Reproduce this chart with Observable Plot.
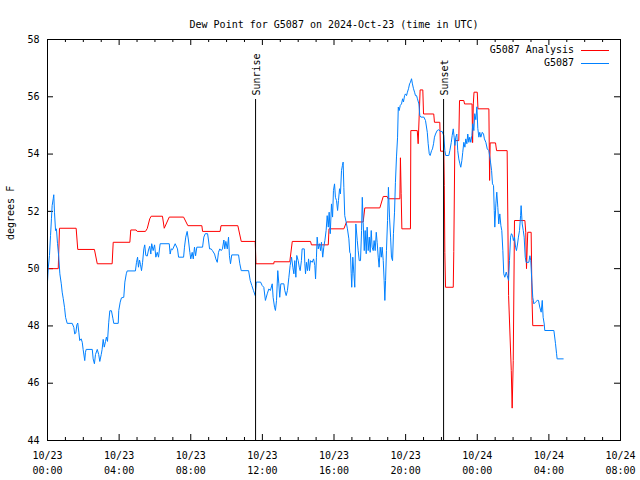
<!DOCTYPE html>
<html><head><meta charset="utf-8">
<script src="https://cdn.jsdelivr.net/npm/d3@7"></script>
<script src="https://cdn.jsdelivr.net/npm/@observablehq/plot@0.6"></script>
<style>body{margin:0;background:#fff}</style>
</head><body><div id="chart"></div><script>
const titleText = "Dew Point for G5087 on 2024-Oct-23 (time in UTC)";
const yLabel = "degrees F";
const seriesNames = ["G5087 Analysis", "G5087"];
const seriesColors = ["#ff0000", "#0080ff"];

// hours since 2024-10-23 00:00 UTC
const analysisHours = [0, 0.60, 0.67, 1.60, 1.69, 2.62, 2.78, 3.61, 3.67, 4.60, 4.65, 4.95, 5.01, 5.47, 5.57, 5.71, 5.79, 6.42, 6.52, 6.80, 7.60, 7.84, 8.62, 8.66, 9.64, 9.69, 10.63, 10.82, 11.60, 11.64, 12.64, 12.65, 13.53, 13.67, 14.69, 14.74, 15.68, 15.72, 16.55, 16.70, 17.63, 17.72, 18.56, 18.75, 18.97, 19.02, 19.68, 19.71, 19.75, 19.79, 20.27, 20.29, 20.65, 20.70, 20.81, 20.96, 21.00, 21.57, 21.61, 21.91, 21.95, 22.13, 22.16, 22.19, 22.23, 22.66, 22.69, 22.75, 22.97, 23.01, 23.25, 23.29, 23.71, 23.74, 23.78, 23.82, 24.00, 24.04, 24.65, 24.69, 24.72, 25.02, 25.08, 25.67, 25.75, 25.90, 25.95, 26.01, 26.08, 26.66, 26.71, 26.75, 26.82, 27.01, 27.06, 27.10, 27.68];
const analysisValues = [50.0, 50.0, 51.41, 51.41, 50.67, 50.67, 50.17, 50.17, 50.92, 50.92, 51.35, 51.35, 51.3, 51.3, 51.4, 51.74, 51.83, 51.83, 51.41, 51.8, 51.8, 51.5, 51.5, 51.3, 51.3, 51.5, 51.5, 50.95, 50.95, 50.17, 50.17, 50.24, 50.24, 50.95, 50.95, 50.83, 50.83, 51.39, 51.39, 51.63, 51.63, 52.12, 52.12, 52.52, 52.52, 52.44, 52.44, 53.87, 52.63, 51.39, 51.39, 54.82, 54.82, 54.36, 56.24, 56.24, 55.4, 55.4, 55.11, 55.11, 54.1, 54.1, 52.9, 50.57, 49.35, 49.35, 50.6, 54.47, 54.47, 55.87, 55.87, 55.75, 55.75, 54.4, 55.75, 56.16, 56.16, 55.58, 55.58, 53.08, 54.39, 54.39, 54.12, 54.12, 49.06, 46.44, 45.13, 46.79, 51.68, 51.68, 51.27, 50.0, 51.27, 51.27, 48.89, 48.01, 48.01];

const obsHours = [
0.00,0.04,0.11,0.17,0.22,0.26,0.32,0.35,0.39,0.45,
0.50,0.56,0.63,0.69,0.77,0.82,0.88,0.95,1.01,1.10,
1.38,1.47,1.52,1.58,1.64,1.69,1.75,1.80,1.88,1.94,
1.99,2.08,2.12,2.16,2.50,2.55,2.62,2.68,2.78,2.86,
2.92,3.00,3.05,3.11,3.17,3.24,3.29,3.35,3.42,3.48,
3.57,3.65,3.70,3.95,3.98,4.06,4.13,4.26,4.32,4.40,
4.45,4.91,4.97,5.03,5.08,5.14,5.19,5.25,5.31,5.38,
5.43,5.49,5.57,5.64,5.71,5.77,5.82,5.90,5.98,6.05,
6.13,6.20,6.29,6.80,6.85,6.91,6.98,7.13,7.26,7.32,
7.60,7.65,7.72,7.80,7.87,7.95,8.00,8.08,8.14,8.21,
8.27,8.34,8.66,8.73,8.81,8.94,8.99,9.05,9.14,9.21,
9.33,9.40,9.48,9.55,9.62,9.70,9.77,9.85,9.90,9.96,
10.04,10.11,10.16,10.22,10.29,10.67,10.74,10.82,11.23,11.32,
11.41,11.50,11.60,11.66,11.71,11.90,11.99,12.08,12.17,12.27,
12.36,12.45,12.55,12.60,12.68,12.73,12.79,12.86,12.92,12.97,
13.03,13.20,13.25,13.33,13.40,13.48,13.55,13.63,13.70,13.76,
13.81,13.87,13.92,14.00,14.06,14.11,14.18,14.22,14.34,14.37,
14.41,14.46,14.52,14.58,14.63,14.69,14.78,14.86,14.93,14.97,
15.02,15.06,15.12,15.19,15.25,15.30,15.37,15.43,15.49,15.56,
15.62,15.68,15.73,15.79,15.86,15.92,15.97,16.03,16.08,16.14,
16.20,16.25,16.31,16.36,16.42,16.47,16.51,16.55,16.60,16.68,
16.75,16.83,16.88,16.92,16.96,16.99,17.05,17.11,17.16,17.22,
17.30,17.35,17.41,17.48,17.54,17.58,17.63,17.69,17.74,17.80,
17.85,17.91,17.97,18.02,18.08,18.13,18.19,18.24,18.30,18.36,
18.41,18.47,18.52,18.58,18.64,18.69,18.75,18.80,18.84,18.88,
18.93,18.99,19.04,19.10,19.16,19.21,19.27,19.32,19.38,19.43,
19.49,19.55,19.59,19.64,19.70,19.77,19.83,19.88,19.94,19.99,
20.05,20.10,20.16,20.22,20.27,20.33,20.38,20.44,20.50,20.55,
20.61,20.66,20.74,20.79,20.85,21.02,21.11,21.21,21.26,21.32,
21.37,21.45,21.50,21.56,21.61,21.67,21.76,21.85,21.95,22.04,
22.13,22.19,22.24,22.41,22.47,22.55,22.60,22.66,22.71,22.75,
22.80,22.86,22.91,22.97,23.03,23.08,23.14,23.19,23.25,23.31,
23.36,23.42,23.47,23.53,23.58,23.64,23.70,23.75,23.81,23.86,
23.92,23.98,24.03,24.09,24.14,24.20,24.28,24.35,24.40,24.48,
24.56,24.65,24.74,24.80,24.85,24.91,24.95,24.98,25.04,25.09,
25.15,25.20,25.26,25.32,25.37,25.43,25.48,25.54,25.62,25.67,
25.75,25.80,25.86,25.91,25.97,26.02,26.08,26.14,26.19,26.25,
26.30,26.36,26.42,26.45,26.51,26.57,26.62,26.68,26.73,26.88,
26.94,26.99,27.05,27.10,27.16,27.25,27.35,27.42,27.49,27.57,
27.63,27.68,27.74,27.77,28.28,28.37,28.43,28.46,28.80];
const obsValues = [
49.53,50.0,50.46,51.16,51.74,52.2,52.44,52.58,51.97,51.33,
51.39,50.87,50.4,49.82,49.47,49.18,48.95,48.65,48.3,48.09,
48.09,47.95,47.72,47.75,48.04,48.1,47.78,47.49,47.55,47.43,
47.18,46.79,47.08,47.18,47.18,46.85,46.68,47.0,47.18,47.0,
46.76,47.0,47.18,47.53,47.26,47.46,47.61,47.46,48.13,48.53,
48.53,48.27,48.09,48.09,48.54,48.83,48.98,49.0,49.53,49.82,
49.92,49.92,50.22,50.4,50.05,50.3,50.15,49.93,50.22,50.69,
50.83,50.46,50.44,50.65,50.78,50.51,50.87,50.63,50.83,50.4,
50.57,50.4,50.87,50.87,50.51,50.69,50.66,50.87,50.69,50.4,
50.4,50.75,51.1,51.3,51.0,50.57,50.34,50.57,50.34,50.75,
50.45,50.75,50.75,51.1,51.22,51.22,51.0,50.69,50.69,50.63,
50.51,50.34,50.22,50.57,50.69,50.63,50.69,51.0,50.69,50.95,
50.69,51.1,50.45,50.17,50.48,50.48,50.17,49.93,49.93,49.59,
49.41,49.24,49.06,49.53,49.53,49.53,49.41,49.35,48.89,49.12,
49.29,49.24,49.47,49.0,48.65,48.54,48.89,49.93,49.47,49.0,
49.47,49.47,49.24,49.06,49.24,49.7,50.11,50.4,50.05,49.82,
50.28,49.7,50.46,50.28,50.05,49.93,50.28,50.69,50.69,50.17,
49.82,50.22,49.93,50.34,49.93,50.28,50.22,50.34,50.11,49.64,
50.4,51.1,50.69,50.87,50.63,50.92,50.4,50.75,50.98,51.33,
51.85,51.45,51.97,51.22,52.26,51.8,52.73,52.96,52.49,52.38,
52.03,52.38,52.79,52.61,53.43,53.6,53.72,52.84,51.85,51.62,
51.39,51.04,50.57,50.52,49.82,49.35,50.4,49.82,49.35,51.56,
50.98,50.63,50.28,50.28,51.33,52.49,51.62,50.63,51.33,50.52,
51.45,50.63,51.1,50.57,51.33,50.75,50.63,50.98,50.63,51.27,
50.92,50.4,50.05,50.75,50.4,50.75,50.28,49.59,48.89,49.59,
50.63,51.68,52.84,51.8,51.1,50.4,50.28,51.22,51.97,53.0,
53.9,54.59,55.64,55.52,55.7,55.75,55.93,55.82,56.04,56.1,
56.04,56.16,56.28,56.45,56.51,56.63,56.45,56.28,56.16,56.04,
56.04,55.93,55.75,55.35,55.29,55.29,55.17,54.76,54.36,54.01,
53.95,54.12,54.18,54.36,54.59,54.7,54.82,54.85,54.79,54.79,
54.65,54.12,53.95,53.95,54.12,54.41,54.65,54.88,54.59,54.3,
54.59,54.7,54.12,53.83,53.66,53.54,53.77,54.06,54.41,54.24,
54.53,54.36,54.7,54.41,54.59,54.41,54.65,55.06,54.82,55.41,
55.2,55.65,54.9,54.59,54.76,54.59,54.76,54.7,54.53,54.41,
54.18,54.12,53.72,53.43,52.96,52.9,52.03,51.45,52.26,52.67,
52.14,51.56,51.91,51.5,51.33,50.63,49.82,49.7,49.88,49.76,
49.59,50.28,51.1,51.22,51.16,50.98,51.1,50.75,50.63,50.86,
51.1,51.33,51.85,52.2,51.56,51.33,51.1,50.4,50.22,50.22,
50.45,50.28,49.53,49.0,48.77,48.83,48.89,48.89,48.66,48.48,
48.89,48.3,48.07,47.84,47.84,47.38,47.03,46.85,46.85];

const sunLabels = ["Sunrise", "Sunset"];
const sunHours = [11.62, 22.12];

const xTickHours = [0, 4, 8, 12, 16, 20, 24, 28, 32];
const xTickLabels = ["10/23\n00:00", "10/23\n04:00", "10/23\n08:00", "10/23\n12:00", "10/23\n16:00", "10/23\n20:00", "10/24\n00:00", "10/24\n04:00", "10/24\n08:00"];
const xMinorHours = [1,2,3,5,6,7,9,10,11,13,14,15,17,18,19,21,22,23,25,26,27,29,30,31];
const yTicks = [44, 46, 48, 50, 52, 54, 56, 58];

const analysis = analysisHours.map((h, i) => ({h, v: analysisValues[i]}));
const obs = obsHours.map((h, i) => ({h, v: obsValues[i]}));
const sun = sunHours.map((h, i) => ({h, label: sunLabels[i]}));
const xTicks = xTickHours.map((h, i) => ({h, label: xTickLabels[i]}));

const W = 640, H = 480, mL = 47, mR = 20, mT = 39, mB = 40;
const fh = H - mT - mB, fw = W - mL - mR;

const legend = (index, scales, values, dims) => {
  const g = d3.create("svg:g");
  const right = dims.width - dims.marginRight;
  seriesNames.forEach((name, i) => {
    const y = dims.marginTop + 11 + i * 13;
    g.append("text").attr("x", right - 46).attr("y", y).attr("dy", "0.32em")
      .attr("text-anchor", "end").attr("fill", "black").text(name);
    g.append("line").attr("x1", right - 39).attr("x2", right - 11)
      .attr("y1", y + 0.5).attr("y2", y + 0.5).attr("stroke", seriesColors[i]);
  });
  return g.node();
};

const chart = Plot.plot({
  width: W, height: H,
  marginLeft: mL, marginRight: mR, marginTop: mT, marginBottom: mB,
  x: {domain: [0, 32], axis: null},
  y: {domain: [44, 58], axis: null},
  style: {fontFamily: "'DejaVu Sans Mono', monospace", fontSize: "10px", background: "white", color: "black", overflow: "visible"},
  marks: [
    Plot.ruleX(xMinorHours, {x: d => d, insetTop: fh - 3, stroke: "black"}),
    Plot.ruleX(xMinorHours, {x: d => d, insetBottom: fh - 3, stroke: "black"}),
    Plot.ruleX(xTickHours, {x: d => d, insetTop: fh - 6, stroke: "black"}),
    Plot.ruleX(xTickHours, {x: d => d, insetBottom: fh - 6, stroke: "black"}),
    Plot.ruleY(yTicks, {y: d => d, insetRight: fw - 6, stroke: "black"}),
    Plot.ruleY(yTicks, {y: d => d, insetLeft: fw - 6, stroke: "black"}),
    Plot.line(analysis, {x: "h", y: "v", stroke: seriesColors[0], strokeWidth: 1}),
    Plot.line(obs, {x: "h", y: "v", stroke: seriesColors[1], strokeWidth: 1}),
    Plot.ruleX(sun, {x: "h", insetTop: 60, stroke: "black"}),
    Plot.text(sun, {x: "h", text: "label", frameAnchor: "top", dy: 56, dx: -3, rotate: -90, textAnchor: "start", fill: "black"}),
    Plot.text(xTicks, {x: "h", text: "label", frameAnchor: "bottom", dy: 8, lineAnchor: "top", lineHeight: 1.5, fill: "black"}),
    Plot.text(yTicks, {y: d => d, text: d => String(d), frameAnchor: "left", dx: -8, textAnchor: "end", fill: "black"}),
    Plot.text([yLabel], {frameAnchor: "left", dx: -37, rotate: -90, fill: "black"}),
    Plot.text([titleText], {frameAnchor: "top", dy: -19, fill: "black"}),
    legend,
    Plot.frame({stroke: "black"})
  ]
});
document.getElementById("chart").append(chart);
</script></body></html>
